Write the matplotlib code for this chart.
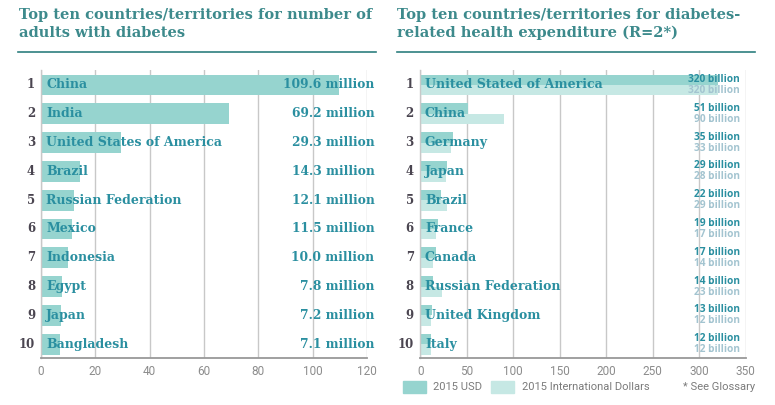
import matplotlib.pyplot as plt
from matplotlib.patches import Rectangle
from matplotlib.lines import Line2D

# left panel: adults with diabetes (millions)
adult_countries = ["China", "India", "United States of America", "Brazil",
                   "Russian Federation", "Mexico", "Indonesia", "Egypt",
                   "Japan", "Bangladesh"]
adult_values = [109.6, 69.2, 29.3, 14.3, 12.1, 11.5, 10.0, 7.8, 7.2, 7.1]
adult_ticks = [0, 20, 40, 60, 80, 100, 120]

# right panel: health expenditure (billions)
exp_countries = ["United Stated of America", "China", "Germany", "Japan",
                 "Brazil", "France", "Canada", "Russian Federation",
                 "United Kingdom", "Italy"]
exp_usd = [320, 51, 35, 29, 22, 19, 17, 14, 13, 12]
exp_intl = [320, 90, 33, 28, 29, 17, 14, 23, 12, 12]
exp_ticks = [0, 50, 100, 150, 200, 250, 300, 350]

BAR = "#96d4cf"
BAR_LIGHT = "#c6e8e4"
NAME = "#2a8fa0"
INTL_TXT = "#a3c4d0"
TITLE = "#3d8a8c"
RANK = "#4a4550"
GRID = "#c8c8c8"
TICK = "#8c8c8c"
SLAB = "DejaVu Serif"

W, H = 775, 405
fig = plt.figure(figsize=(W / 100, H / 100), dpi=100)


def fx(px):
    return px / W


def fy(py):
    return 1 - py / H


def setup(ax, ticks):
    ax.set_xlim(ticks[0], ticks[-1])
    ax.set_ylim(10.48, 0.48)
    ax.set_xticks(ticks)
    ax.set_yticks([])
    ax.tick_params(axis="x", length=0, pad=5, labelsize=8.5, labelcolor=TICK)
    for lab in ax.get_xticklabels():
        lab.set_fontfamily("Roboto")
    for s in ["top", "right"]:
        ax.spines[s].set_visible(False)
    ax.spines["left"].set_color(GRID)
    ax.spines["left"].set_linewidth(1)
    ax.spines["bottom"].set_color("#999999")
    ax.spines["bottom"].set_linewidth(1.3)
    ax.grid(axis="x", color=GRID, linewidth=1)
    ax.set_axisbelow(True)


rows = list(range(1, 11))

# ---- left
ax1 = fig.add_axes([fx(41), fy(358), fx(326), 288 / H])
setup(ax1, adult_ticks)
ax1.barh(rows, adult_values, height=0.72, color=BAR)
for r, name, v in zip(rows, adult_countries, adult_values):
    ax1.text(2, r, name, va="center", ha="left", fontfamily=SLAB,
             fontweight="bold", fontsize=9, color=NAME)
    ax1.text(122.8, r, f"{v:.1f} million", va="center", ha="right",
             fontfamily=SLAB, fontweight="bold", fontsize=8.8, color=NAME,
             clip_on=False)
    ax1.text(-2.2, r, str(r), va="center", ha="right", fontfamily=SLAB,
             fontweight="bold", fontsize=8.5, color=RANK)

# ---- right
ax2 = fig.add_axes([fx(420.3), fy(358), fx(325.5), 288 / H])
setup(ax2, exp_ticks)
ax2.barh([r - 0.18 for r in rows], exp_usd, height=0.36, color=BAR)
ax2.barh([r + 0.18 for r in rows], exp_intl, height=0.36, color=BAR_LIGHT)
for r, name, u, i in zip(rows, exp_countries, exp_usd, exp_intl):
    ax2.text(5, r, name, va="center", ha="left", fontfamily=SLAB,
             fontweight="bold", fontsize=9, color=NAME)
    ax2.text(344, r - 0.19, f"{u} billion", va="center", ha="right",
             fontfamily="Open Sans", fontweight="bold", fontsize=7.3, color=NAME)
    ax2.text(344, r + 0.19, f"{i} billion", va="center", ha="right",
             fontfamily="Open Sans", fontweight="bold", fontsize=7.3, color=INTL_TXT)
    ax2.text(-7, r, str(r), va="center", ha="right", fontfamily=SLAB,
             fontweight="bold", fontsize=8.5, color=RANK)

# titles and rules
fig.text(fx(19), fy(8), "Top ten countries/territories for number of\nadults with diabetes",
         ha="left", va="top", fontfamily=SLAB, fontweight="bold", fontsize=10.5,
         color=TITLE, linespacing=1.35)
fig.text(fx(397), fy(8), "Top ten countries/territories for diabetes-\nrelated health expenditure (R=2*)",
         ha="left", va="top", fontfamily=SLAB, fontweight="bold", fontsize=10.5,
         color=TITLE, linespacing=1.35)
fig.add_artist(Line2D([fx(18), fx(376)], [fy(52), fy(52)], color="#2e7f7f", lw=1.2))
fig.add_artist(Line2D([fx(397), fx(755)], [fy(52), fy(52)], color="#2e7f7f", lw=1.2))

# legend
fig.add_artist(Rectangle((fx(403), fy(393)), fx(23), 12 / H, color=BAR))
fig.text(fx(433), fy(387), "2015 USD", ha="left", va="center",
         fontfamily="Roboto", fontsize=8, color="#7a7a7a")
fig.add_artist(Rectangle((fx(491), fy(393)), fx(23), 12 / H, color=BAR_LIGHT))
fig.text(fx(522), fy(387), "2015 International Dollars", ha="left", va="center",
         fontfamily="Roboto", fontsize=8, color="#7a7a7a")
fig.text(fx(755), fy(387), "* See Glossary", ha="right", va="center",
         fontfamily="Roboto", fontsize=8, color="#7a7a7a")

fig.savefig("out.png", dpi=100)
